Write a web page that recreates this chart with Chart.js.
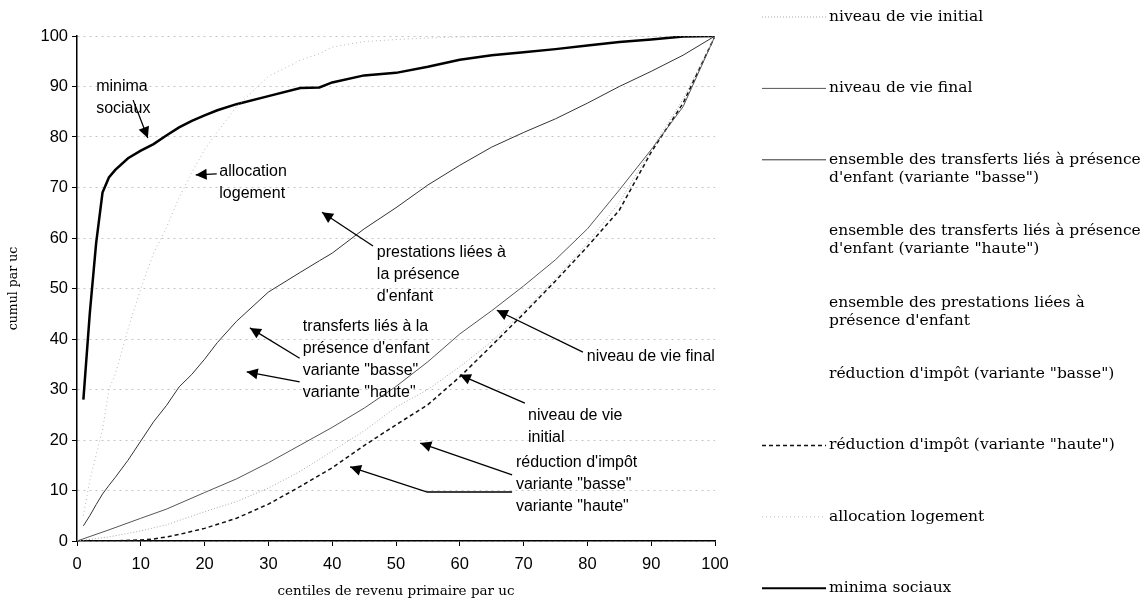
<!DOCTYPE html>
<html lang="fr">
<head>
<meta charset="utf-8">
<title>Cumul par uc selon les centiles de revenu primaire</title>
<script src="https://cdn.jsdelivr.net/npm/chart.js@4.4.1/dist/chart.umd.min.js"></script>
<style>
  html, body { margin: 0; padding: 0; background: #fff; }
  #wrap { position: relative; width: 1144px; height: 604px; }
</style>
</head>
<body>
<div id="wrap"><canvas id="chart" width="1144" height="604"></canvas></div>
<script>
// ─── Data ───────────────────────────────────────────────────────────────────

const centiles = [0, 1, 2, 3, 4, 5, 6, 8, 10, 12, 14, 16, 18, 20, 22, 25,
                  30, 35, 38, 40, 45, 50, 55, 60, 65, 70, 75, 80, 85, 90, 95, 100];

const niveauInitial = [0, null, null, null, null, 0.8, null, null, 2, null, 3.2, null, null, 5.8, null, 7.8,
                       10.5, 13.8, null, 17.8, 21.8, 26.5, 30, 34.5, 39.5, 45.5, 52, 59, 67, 77.5, 87.5, 100];
const niveauFinal   = [0, null, null, null, null, 2.2, null, null, 4.5, null, 6.3, null, null, 9.6, null, 12.3,
                       15.5, 19, null, 22.5, 26.3, 30.6, 35.5, 41, 45.6, 50.5, 55.7, 61.8, 69.5, 77.5, 86, 100];
const transfertsBasse = [null, 3, 5, 7.2, 9.3, 11, 12.6, 16, 19.8, 23.6, 26.8, 30.5, 33, 36, 39.3, 43.5,
                         49.3, 53.2, 55.5, 57, 61.8, 66, 70.5, 74.4, 78, 80.9, 83.6, 86.7, 90, 93, 96.2, 100];
const transfertsHaute = [];   // not visible in the picture
const prestations     = [];   // not visible in the picture
const reductionBasse  = [];   // not visible in the picture
const reductionHaute  = [0, null, null, null, null, 0, null, null, 0.2, 0.4, 0.8, 1.3, null, 2.5, null, 4.5,
                         7.3, 10.8, null, 14.5, 18.9, 23, 27, 32.5, 38.7, 45, 51.5, 58.3, 65.5, 77, 86.7, 100];
const allocLogement   = [null, 5, 12, 17, 22, 30, 33, 42, 50, 57, 62, 68, 73, 77.5, 81, 86,
                         92, 95.2, 96.5, 97.8, 98.9, 99.3, 99.6, 99.8, 99.9, 100, 100, 100, 100, 100, 100, 100];
const minimaSociaux   = [null, 28, 45, 59, 69, 72, 73.5, 75.8, 77.3, 78.6, 80.3, 81.9, 83.2, 84.3, 85.3, 86.5,
                         88.1, 89.7, 89.8, 90.8, 92.2, 92.7, 93.9, 95.3, 96.2, 96.8, 97.4, 98.1, 98.8, 99.3, 99.9, 100];

const xTicks = [0, 10, 20, 30, 40, 50, 60, 70, 80, 90, 100];
const yTicks = [0, 10, 20, 30, 40, 50, 60, 70, 80, 90, 100];

// text labels with arrows, positioned in data units (centile, cumul)
const notes = [
    { lines: ['minima', 'sociaux'],                      at: [3.0, 89.9],  arrows: [[[8.8, 87.3], [11.1, 79.8]]] },
    { lines: ['allocation', 'logement'],                 at: [22.3, 73.1], arrows: [[[21.9, 72.7], [18.6, 72.5]]] },
    { lines: ['prestations liées à', 'la présence', "d'enfant"], at: [47.0, 57.2], arrows: [[[46.4, 58.4], [38.4, 65.1]]] },
    { lines: ['transferts liés à la', "présence d'enfant", 'variante "basse"', 'variante "haute"'], at: [35.4, 42.4],
      arrows: [[[34.9, 36.2], [27.1, 42.2]], [[34.9, 31.5], [26.6, 33.5]]] },
    { lines: ['niveau de vie final'],                    at: [79.9, 36.6], arrows: [[[79.3, 37.4], [65.8, 45.7]]] },
    { lines: ['niveau de vie', 'initial'],               at: [70.7, 24.8], arrows: [[[70.2, 27.3], [60.0, 32.9]]] },
    { lines: ["réduction d'impôt", 'variante "basse"', 'variante "haute"'], at: [68.8, 15.6],
      arrows: [[[68.2, 13.1], [53.8, 19.4]], [[68.2, 9.7], [54.9, 9.7], [42.8, 14.7]]] },
];

// ─── Helpers ────────────────────────────────────────────────────────────────

const pts = vals => centiles.map((c, i) => ({ x: c, y: vals[i] === undefined ? null : vals[i] }));

const SANS  = '"Liberation Sans", Arial, sans-serif';
const SERIF = '"DejaVu Serif", serif';

const series = [
    { label: 'niveau de vie initial', data: niveauInitial, color: '#a8a8a8', width: 1, dash: [1, 2] },
    { label: 'niveau de vie final', data: niveauFinal, color: '#555', width: 1, dash: [] },
    { label: ['ensemble des transferts liés à présence', 'd\'enfant (variante "basse")'], data: transfertsBasse, color: '#333', width: 1, dash: [] },
    { label: ['ensemble des transferts liés à présence', 'd\'enfant (variante "haute")'], data: transfertsHaute, color: 'rgba(0,0,0,0)', width: 1, dash: [] },
    { label: ['ensemble des prestations liées à', 'présence d\'enfant'], data: prestations, color: 'rgba(0,0,0,0)', width: 1, dash: [] },
    { label: 'réduction d\'impôt (variante "basse")', data: reductionBasse, color: 'rgba(0,0,0,0)', width: 1, dash: [] },
    { label: 'réduction d\'impôt (variante "haute")', data: reductionHaute, color: '#111', width: 1.5, dash: [4, 3] },
    { label: 'allocation logement', data: allocLogement, color: '#b8b8b8', width: 1, dash: [1, 3] },
    { label: 'minima sociaux', data: minimaSociaux, color: '#000', width: 2.5, dash: [] },
];

// ─── Plugins ────────────────────────────────────────────────────────────────

const notesPlugin = {
    id: 'notes',
    afterDatasetsDraw(chart) {
        const { ctx, scales: { x, y } } = chart;
        const px = p => [x.getPixelForValue(p[0]), y.getPixelForValue(p[1])];
        ctx.save();
        ctx.font = '16px ' + SANS;
        ctx.fillStyle = '#000';
        ctx.strokeStyle = '#000';
        ctx.textBaseline = 'middle';
        ctx.textAlign = 'left';
        for (const n of notes) {
            const [tx, ty] = px(n.at);
            n.lines.forEach((t, i) => ctx.fillText(t, tx, ty + i * 22));
            for (const a of n.arrows) {
                const p = a.map(px);
                ctx.lineWidth = 1.3;
                ctx.beginPath();
                ctx.moveTo(p[0][0], p[0][1]);
                for (let i = 1; i < p.length; i++) ctx.lineTo(p[i][0], p[i][1]);
                ctx.stroke();
                // arrow head
                const [x1, y1] = p[p.length - 2];
                const [x2, y2] = p[p.length - 1];
                const ang = Math.atan2(y2 - y1, x2 - x1);
                const L = 11, W = 5.5;
                ctx.beginPath();
                ctx.moveTo(x2, y2);
                ctx.lineTo(x2 - L * Math.cos(ang) + W * Math.sin(ang), y2 - L * Math.sin(ang) - W * Math.cos(ang));
                ctx.lineTo(x2 - L * Math.cos(ang) - W * Math.sin(ang), y2 - L * Math.sin(ang) + W * Math.cos(ang));
                ctx.closePath();
                ctx.fill();
            }
        }
        ctx.restore();
    },
};

const legendPlugin = {
    id: 'sideLegend',
    afterDraw(chart) {
        const ctx = chart.ctx;
        ctx.save();
        ctx.font = '15.5px ' + SERIF;
        ctx.fillStyle = '#000';
        ctx.textBaseline = 'middle';
        chart.data.datasets.forEach((ds, i) => {
            const yy = 17 + i * 71.4;
            ctx.beginPath();
            ctx.setLineDash(ds.borderDash || []);
            ctx.strokeStyle = ds.borderColor;
            ctx.lineWidth = Math.min(ds.borderWidth, 2);
            ctx.moveTo(762, yy);
            ctx.lineTo(826, yy);
            ctx.stroke();
            ctx.setLineDash([]);
            const lines = Array.isArray(ds.label) ? ds.label : [ds.label];
            lines.forEach((t, k) => ctx.fillText(t, 829, yy + k * 18));
        });
        ctx.restore();
    },
};

// ─── Chart ──────────────────────────────────────────────────────────────────

new Chart(document.getElementById('chart'), {
    type: 'line',
    data: {
        datasets: series.map(s => ({
            label: s.label,
            data: pts(s.data),
            borderColor: s.color,
            borderWidth: s.width,
            borderDash: s.dash,
            pointRadius: 0,
            tension: 0,
            spanGaps: true,
            fill: false,
        })),
    },
    options: {
        responsive: false,
        animation: false,
        events: [],
        layout: { padding: { top: 36, right: 429, bottom: 0, left: 0 } },
        plugins: {
            legend:  { display: false },
            tooltip: { enabled: false },
        },
        scales: {
            x: {
                type: 'linear',
                min: 0, max: 100,
                afterFit: s => { s.height = 63; },
                afterBuildTicks: s => { s.ticks = xTicks.map(v => ({ value: v })); },
                ticks: { color: '#000', font: { size: 16.5, family: SANS }, padding: 9, maxRotation: 0 },
                grid:  { drawOnChartArea: false, drawTicks: true, tickLength: 5, tickColor: '#000' },
                border: { color: '#000', width: 1.5 },
                title: { display: true, text: 'centiles de revenu primaire par uc', color: '#000',
                         font: { size: 13.5, family: SERIF }, padding: { top: 4, bottom: 4 } },
            },
            y: {
                min: 0, max: 100,
                afterFit: s => { s.width = 77; },
                afterBuildTicks: s => { s.ticks = yTicks.map(v => ({ value: v })); },
                ticks: { color: '#000', font: { size: 16.5, family: SANS }, padding: 4 },
                grid:  { color: '#c4c4c4', tickLength: 5, tickColor: '#000', tickBorderDash: [] },
                border: { color: '#000', width: 1.5, dash: [2, 4] },
                title: { display: true, text: 'cumul par uc', color: '#000',
                         font: { size: 12.5, family: SERIF }, padding: { top: 6, bottom: 4 } },
            },
        },
    },
    plugins: [notesPlugin, legendPlugin],
});
</script>
</body>
</html>
